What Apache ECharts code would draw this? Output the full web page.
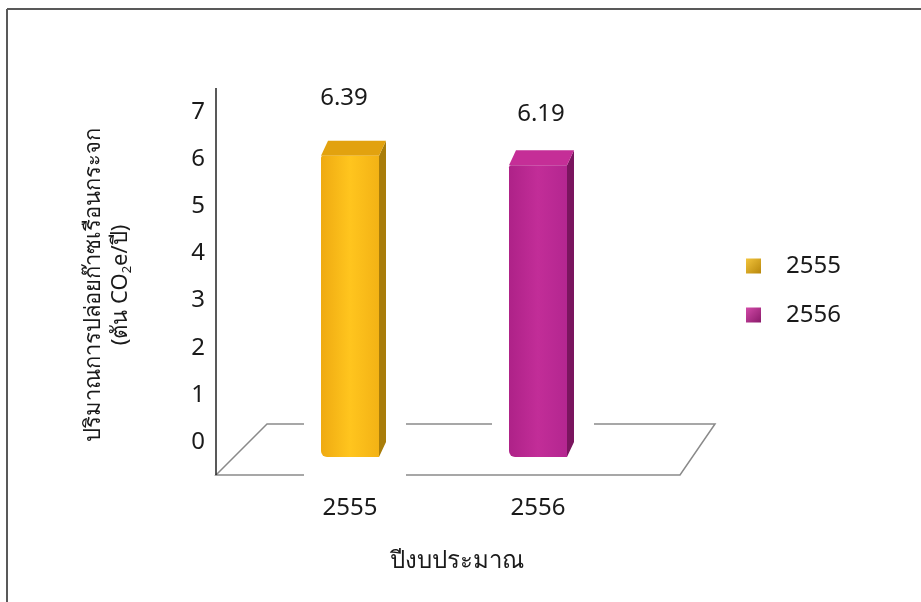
<!DOCTYPE html>
<html><head><meta charset="utf-8">
<script src="https://cdn.jsdelivr.net/npm/echarts@6/dist/echarts.min.js"></script>
<style>html,body{margin:0;padding:0;background:#fff}#c{width:921px;height:602px}</style>
</head><body><div id="c"></div>
<script>
const categories = ['2555', '2556'];
const seriesNames = ['2555', '2556'];
const values2555 = [6.39, null];
const values2556 = [null, 6.19];
const yTicks = [0, 1, 2, 3, 4, 5, 6, 7];
const xTitle = 'ปีงบประมาณ';
const yTitleLine1 = 'ปริมาณการปล่อยก๊าซเรือนกระจก';
const yTitleLine2 = '(ตัน CO{s|2}e/ปี)';

const FONT = '"Noto Sans", "Open Sans", sans-serif';
const TXT = '#1a1a1a';

function toData(arr) {
  return arr.map((v, i) => [i, v]).filter(d => d[1] != null);
}
function hGrad(a, b, c) {
  return new echarts.graphic.LinearGradient(0, 0, 1, 0, [
    {offset: 0, color: a}, {offset: 0.5, color: b}, {offset: 1, color: c}]);
}
function dGrad(a, b) {
  return new echarts.graphic.LinearGradient(0, 0, 1, 1, [
    {offset: 0, color: a}, {offset: 1, color: b}]);
}

function makeRender(faces, haloBottom, labelGap, labelDx) {
  return function (params, api) {
    const ci = api.value(0), v = api.value(1);
    const base = api.coord([ci, 0]);
    const top = api.coord([ci, v]);
    const off = 15, w = 58, dx = 7, dy = 15;
    const cx = base[0];
    const x0 = cx - w / 2, x1 = cx + w / 2;
    const yt = top[1] + off, yb = base[1] + off;
    return {
      type: 'group',
      children: [
        {type: 'rect', shape: {x: cx - 46, y: yt - 31, width: 102, height: yb - yt + 31 + haloBottom}, style: {fill: '#fff'}},
        {type: 'polygon', shape: {points: [[x1, yt], [x1 + dx, yt - dy], [x1 + dx, yb - dy], [x1, yb]]}, style: {fill: faces.side}},
        {type: 'polygon', shape: {points: [[x0, yt], [x0 + dx, yt - dy], [x1 + dx, yt - dy], [x1, yt]]}, style: {fill: faces.top}},
        {type: 'rect', shape: {x: x0, y: yt, width: w, height: yb - yt, r: [2, 0, 0, 6]}, style: {fill: faces.front}},
        {type: 'text', style: {text: v.toFixed(2), x: cx + labelDx, y: yt - labelGap, align: 'center', verticalAlign: 'middle',
          fontSize: 24, fontFamily: FONT, fill: TXT}}
      ]
    };
  };
}

function renderFloor(params, api) {
  const cs = params.coordSys;
  const y0 = api.coord([0, 0])[1];
  const L = cs.x, R = cs.x + cs.width;
  return {
    type: 'group',
    children: [
      {type: 'polygon', shape: {points: [[L - 40, y0 + 33], [L + 11, y0 - 18], [R + 83, y0 - 18], [R + 48, y0 + 33]]},
        style: {fill: 'none', stroke: '#8a8a8a', lineWidth: 1.5}},
      {type: 'line', shape: {x1: L - 40, y1: cs.y - 24, x2: L - 40, y2: y0 + 33}, style: {stroke: '#222', lineWidth: 1.5}}
    ]
  };
}

const yellow = {
  front: hGrad('#EFAA12', '#FFC51E', '#F3B215'),
  side: '#A97D0A',
  top: '#E2A20F'
};
const magenta = {
  front: hGrad('#AE2288', '#C22D98', '#B42690'),
  side: '#7A155E',
  top: '#C52E97'
};

const chart = echarts.init(document.getElementById('c'));
chart.setOption({
  backgroundColor: '#fff',
  animation: false,
  grid: {left: 256, right: 289, top: 112, bottom: 160},
  xAxis: {
    type: 'category', data: categories, z: 10,
    axisLine: {show: false}, axisTick: {show: false}, splitLine: {show: false},
    axisLabel: {margin: 54, fontSize: 24, fontFamily: FONT, color: TXT}
  },
  yAxis: {
    type: 'value', min: yTicks[0], max: yTicks[yTicks.length - 1], interval: 1, offset: 40,
    axisLine: {show: false}, axisTick: {show: false}, splitLine: {show: false},
    axisLabel: {margin: 11, fontSize: 24, fontFamily: FONT, color: TXT}
  },
  legend: {
    orient: 'vertical', left: 741, top: 246, itemWidth: 15, itemHeight: 15, itemGap: 19,
    data: seriesNames, icon: 'rect',
    textStyle: {fontSize: 24, fontFamily: FONT, color: TXT, padding: [0, 0, 0, 20], lineHeight: 30}
  },
  graphic: [
    {type: 'line', shape: {x1: 7, y1: 9, x2: 921, y2: 9}, style: {stroke: '#595959', lineWidth: 2}},
    {type: 'line', shape: {x1: 7, y1: 9, x2: 7, y2: 602}, style: {stroke: '#595959', lineWidth: 2}},
    {type: 'text', x: 457, y: 561, style: {text: xTitle, align: 'center', verticalAlign: 'middle',
      fontSize: 24, fontFamily: FONT, fill: TXT}},
    {type: 'text', x: 107, y: 285, rotation: Math.PI / 2, style: {
      text: yTitleLine1 + '\n' + yTitleLine2, align: 'center', verticalAlign: 'middle',
      fontSize: 22, fontFamily: FONT, fill: TXT, lineHeight: 27,
      rich: {s: {fontSize: 13, fontFamily: FONT, fill: TXT, verticalAlign: 'bottom', lineHeight: 27}}
    }}
  ],
  series: [
    {type: 'custom', name: 'floor', z: 1, silent: true, renderItem: renderFloor, data: [[0, 0]]},
    {type: 'custom', name: seriesNames[0], z: 2, renderItem: makeRender(yellow, 40, 58, -6),
      itemStyle: {color: dGrad('#F2C43C', '#B8870B')}, data: toData(values2555)},
    {type: 'custom', name: seriesNames[1], z: 2, renderItem: makeRender(magenta, 6, 51, 3),
      itemStyle: {color: dGrad('#D24AA8', '#8A1A6A')}, data: toData(values2556)}
  ]
});
</script></body></html>
